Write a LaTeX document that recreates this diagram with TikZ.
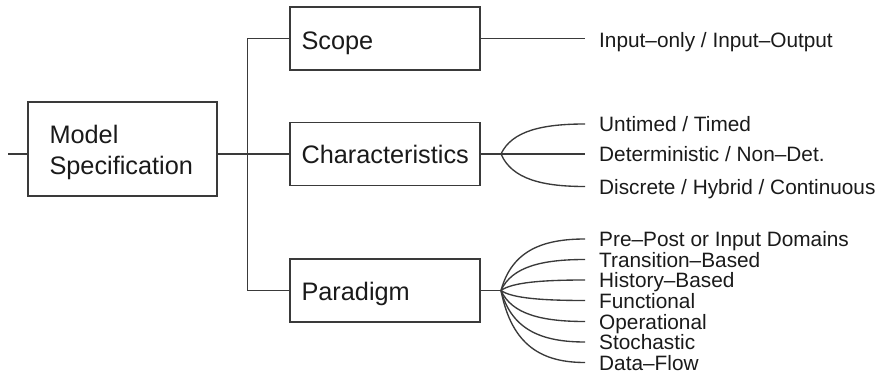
\documentclass[tikz,border=0pt]{standalone}
\usepackage{fontspec}
\setmainfont{Liberation Sans}
\usetikzlibrary{calc}
\definecolor{ink}{HTML}{1A1A1A}
\definecolor{linegray}{HTML}{3A3A3A}
\begin{document}
\begin{tikzpicture}[x=1pt,y=-1pt,
  box/.style={draw=linegray, line width=1.35pt, rectangle, inner sep=0pt,
              minimum width=190pt, minimum height=63pt},
  conn/.style={draw=linegray, line width=1.35pt},
  head/.style={font=\fontsize{25.3}{31}\selectfont, text=ink, inner sep=0pt},
  item/.style={font=\fontsize{20.8}{21}\selectfont, text=ink, anchor=west,
               inner xsep=14pt, inner ysep=0pt, text height=15pt, text depth=0pt}]
\useasboundingbox (0,0) rectangle (881,377);

% main boxes
\node[box, minimum width=189pt, minimum height=94pt] (model) at (122.5,149) {};
\node[head, align=left, anchor=west] (modelt) at ($(model.west)+(22,3)$) {Model\\Specification};
\node[box] (scope) at (385,38.5) {};
\node[head, anchor=base west] (scopet) at ($(scope.west)+(12,11)$) {Scope};
\node[box] (char) at (385,154) {};
\node[head, anchor=base west] (chart) at ($(char.west)+(12,10)$) {Characteristics};
\node[box] (para) at (385,290.5) {};
\node[head, anchor=base west] (parat) at ($(para.west)+(12,10)$) {Paradigm};

% leaf labels
\node[item] (io) at (585,40) {Input–only / Input–Output};
\node[item] (c1) at (585,124) {Untimed / Timed};
\node[item] (c2) at (585,154) {Deterministic / Non–Det.};
\node[item] (c3) at (585,186.5) {Discrete / Hybrid / Continuous};
\node[item] (p1) at (585,239) {Pre–Post or Input Domains};
\node[item] (p2) at (585,259.5) {Transition–Based};
\node[item] (p3) at (585,280) {History–Based};
\node[item] (p4) at (585,300.5) {Functional};
\node[item] (p5) at (585,321.5) {Operational};
\node[item] (p6) at (585,342) {Stochastic};
\node[item] (p7) at (585,362.5) {Data–Flow};

% junction points
\coordinate (in) at (8,154);
\coordinate (cfan) at (501,154);
\coordinate (pfan) at (501,290.5);

% tree connectors
\draw[conn] (in) -- (model.west |- char.west);
\draw[conn] (model.east |- char.west) -- (char.west);
\draw[conn] (scope.west) -- ++(-42,0) |- (para.west);
\draw[conn] (scope.east) -- (scope.east -| io.west);
\draw[conn] (char.east) -- (cfan);
\draw[conn] (para.east) -- (pfan);

% fans of curved branches
\foreach \root/\leaf in {cfan/c1,cfan/c2,cfan/c3,pfan/p1,pfan/p2,pfan/p3,pfan/p4,pfan/p5,pfan/p6,pfan/p7}{
  \draw[conn] let \p1=(\root), \p2=(\leaf.west) in
    (\p1) .. controls ({\x1+0.13*(\x2-\x1)}, {\y1+0.78*(\y2-\y1)})
             and ({\x2-0.5*(\x2-\x1)}, \y2) .. (\p2);
}
\end{tikzpicture}
\end{document}
